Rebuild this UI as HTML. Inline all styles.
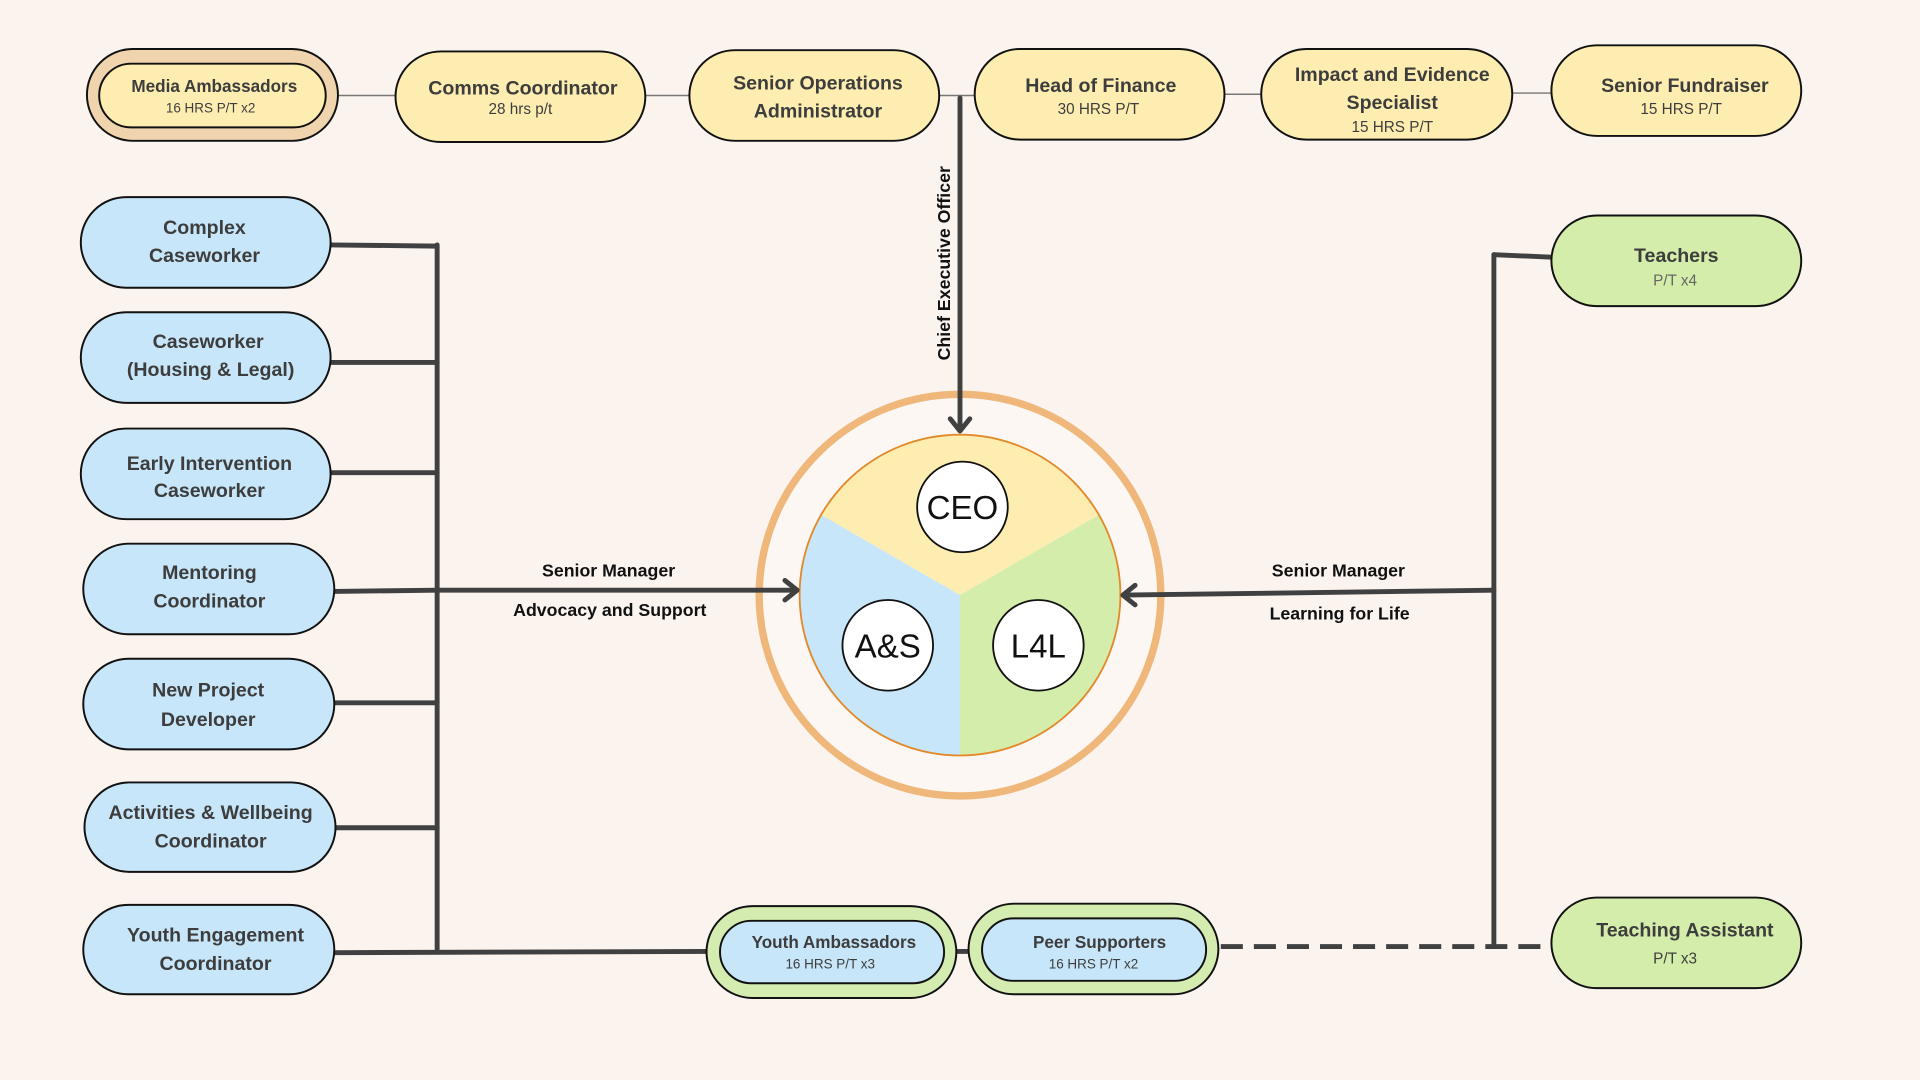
<!DOCTYPE html>
<html><head><meta charset="utf-8"><style>
html,body{margin:0;padding:0;background:#fbf3ee;}
svg{display:block}
text{font-family:"Liberation Sans",sans-serif;fill:#3d3d3d;text-anchor:middle}
.t{font-weight:bold;font-size:16px}
.s{font-size:12.5px}
.xs{font-size:11px}
.lab{font-weight:bold;font-size:14.5px;fill:#111}
.p{stroke:#111;stroke-width:1.6}
</style></head><body>
<svg width="1920" height="1080" viewBox="0 0 1568 882" xmlns="http://www.w3.org/2000/svg">
<rect width="1568" height="882" fill="#fbf3ee"/>
<!-- top thin connectors -->
<g stroke="#777" stroke-width="1.2">
<line x1="276" y1="78" x2="323" y2="78"/>
<line x1="527" y1="78" x2="563" y2="78"/>
<line x1="767" y1="78" x2="796" y2="78"/>
<line x1="1000" y1="77" x2="1030" y2="77"/>
<line x1="1235" y1="76" x2="1267" y2="76"/>
</g>
<!-- top pills -->
<rect class="p" x="71" y="40" width="205" height="75" rx="37.5" fill="#efd4ae"/>
<rect class="p" x="81" y="52" width="185" height="52" rx="26" fill="#fdedb0"/>
<text class="t" x="175" y="75" style="font-size:14px">Media Ambassadors</text>
<text class="xs" x="172" y="92">16 HRS P/T x2</text>
<rect class="p" x="323" y="42" width="204" height="74" rx="37" fill="#fdedb0"/>
<text class="t" x="427" y="77">Comms Coordinator</text>
<text class="s" x="425" y="93">28 hrs p/t</text>
<rect class="p" x="563" y="41" width="204" height="74" rx="37" fill="#fdedb0"/>
<text class="t" x="668" y="73">Senior Operations</text>
<text class="t" x="668" y="96">Administrator</text>
<rect class="p" x="796" y="40" width="204" height="74" rx="37" fill="#fdedb0"/>
<text class="t" x="899" y="75">Head of Finance</text>
<text class="s" x="897" y="93">30 HRS P/T</text>
<rect class="p" x="1030" y="40" width="205" height="74" rx="37" fill="#fdedb0"/>
<text class="t" x="1137" y="66">Impact and Evidence</text>
<text class="t" x="1137" y="89">Specialist</text>
<text class="s" x="1137" y="108">15 HRS P/T</text>
<rect class="p" x="1267" y="37" width="204" height="74" rx="37" fill="#fdedb0"/>
<text class="t" x="1376" y="75">Senior Fundraiser</text>
<text class="s" x="1373" y="93">15 HRS P/T</text>

<!-- central -->
<circle cx="784" cy="486" r="164" fill="#fcf7f3" stroke="#efb77a" stroke-width="6"/>
<path d="M784 486 L670.6 420.5 A131 131 0 0 1 897.4 420.5 Z" fill="#fdedb0"/>
<path d="M784 486 L784 617 A131 131 0 0 1 670.6 420.5 Z" fill="#c7e6f9"/>
<path d="M784 486 L897.4 420.5 A131 131 0 0 1 784 617 Z" fill="#d5edaa"/>
<circle cx="784" cy="486" r="131" fill="none" stroke="#e4892a" stroke-width="1.5"/>
<circle cx="786" cy="414" r="37" fill="#fff" stroke="#111" stroke-width="1.5"/>
<circle cx="725" cy="527" r="37" fill="#fff" stroke="#111" stroke-width="1.5"/>
<circle cx="848" cy="527" r="37" fill="#fff" stroke="#111" stroke-width="1.5"/>
<text x="786" y="424" style="font-size:27px;fill:#111">CEO</text>
<text x="725" y="537" style="font-size:27px;fill:#111">A&amp;S</text>
<text x="848" y="537" style="font-size:27px;fill:#111">L4L</text>

<!-- CEO arrow -->
<g stroke="#404040" stroke-width="4" fill="none" stroke-linecap="round" stroke-linejoin="round">
<line x1="784" y1="80" x2="784" y2="351"/>
<polyline points="776,342 784,352 792,342"/>
<!-- left tree -->
<line x1="357" y1="200" x2="357" y2="777"/>
<line x1="270" y1="200" x2="357" y2="201"/>
<line x1="270" y1="296" x2="357" y2="296"/>
<line x1="270" y1="386" x2="357" y2="386"/>
<line x1="273" y1="483" x2="357" y2="482"/>
<line x1="273" y1="574" x2="357" y2="574"/>
<line x1="274" y1="676" x2="357" y2="676"/>
<line x1="273" y1="778" x2="577" y2="777"/>
<line x1="357" y1="482" x2="650" y2="482"/>
<polyline points="641,474 651,482 641,490"/>
<line x1="781" y1="777" x2="791" y2="777"/>
<!-- right tree -->
<line x1="1220" y1="208" x2="1220" y2="772"/>
<line x1="1220" y1="208" x2="1267" y2="210"/>
<line x1="1220" y1="482" x2="918" y2="486"/>
<polyline points="927,478 917,486 927,494"/>
<line x1="997" y1="773" x2="1267" y2="773" stroke-dasharray="18 9" stroke-linecap="butt"/>
</g>
<text class="lab" transform="translate(776,215) rotate(-90)">Chief Executive Officer</text>
<text class="lab" x="497" y="471">Senior Manager</text>
<text class="lab" x="498" y="503">Advocacy and Support</text>
<text class="lab" x="1093" y="471">Senior Manager</text>
<text class="lab" x="1094" y="506">Learning for Life</text>

<!-- left pills -->
<g fill="#c7e6f9">
<rect class="p" x="66" y="161" width="204" height="74" rx="37"/>
<rect class="p" x="66" y="255" width="204" height="74" rx="37"/>
<rect class="p" x="66" y="350" width="204" height="74" rx="37"/>
<rect class="p" x="68" y="444" width="205" height="74" rx="37"/>
<rect class="p" x="68" y="538" width="205" height="74" rx="37"/>
<rect class="p" x="69" y="639" width="205" height="73" rx="36.5"/>
<rect class="p" x="68" y="739" width="205" height="73" rx="36.5"/>
</g>
<text class="t" x="167" y="191">Complex</text><text class="t" x="167" y="214">Caseworker</text>
<text class="t" x="170" y="284">Caseworker</text><text class="t" x="172" y="307">(Housing &amp; Legal)</text>
<text class="t" x="171" y="384">Early Intervention</text><text class="t" x="171" y="406">Caseworker</text>
<text class="t" x="171" y="473">Mentoring</text><text class="t" x="171" y="496">Coordinator</text>
<text class="t" x="170" y="569">New Project</text><text class="t" x="170" y="593">Developer</text>
<text class="t" x="172" y="669">Activities &amp; Wellbeing</text><text class="t" x="172" y="692">Coordinator</text>
<text class="t" x="176" y="769">Youth Engagement</text><text class="t" x="176" y="792">Coordinator</text>

<!-- bottom ambassadors -->
<rect class="p" x="577" y="740" width="204" height="75" rx="37.5" fill="#d4ecb0"/>
<rect class="p" x="588" y="752" width="183" height="51" rx="25.5" fill="#c7e6f9"/>
<text class="t" x="681" y="774" style="font-size:14px">Youth Ambassadors</text>
<text class="xs" x="678" y="791">16 HRS P/T x3</text>
<rect class="p" x="791" y="738" width="204" height="74" rx="37" fill="#d4ecb0"/>
<rect class="p" x="802" y="750" width="183" height="51" rx="25.5" fill="#c7e6f9"/>
<text class="t" x="898" y="774" style="font-size:14px">Peer Supporters</text>
<text class="xs" x="893" y="791">16 HRS P/T x2</text>

<!-- right pills -->
<rect class="p" x="1267" y="176" width="204" height="74" rx="37" fill="#d5edaa"/>
<text class="t" x="1369" y="214">Teachers</text>
<text class="s" x="1368" y="233" style="fill:#666">P/T x4</text>
<rect class="p" x="1267" y="733" width="204" height="74" rx="37" fill="#d5edaa"/>
<text class="t" x="1376" y="765">Teaching Assistant</text>
<text class="s" x="1368" y="787">P/T x3</text>
</svg>
</body></html>
